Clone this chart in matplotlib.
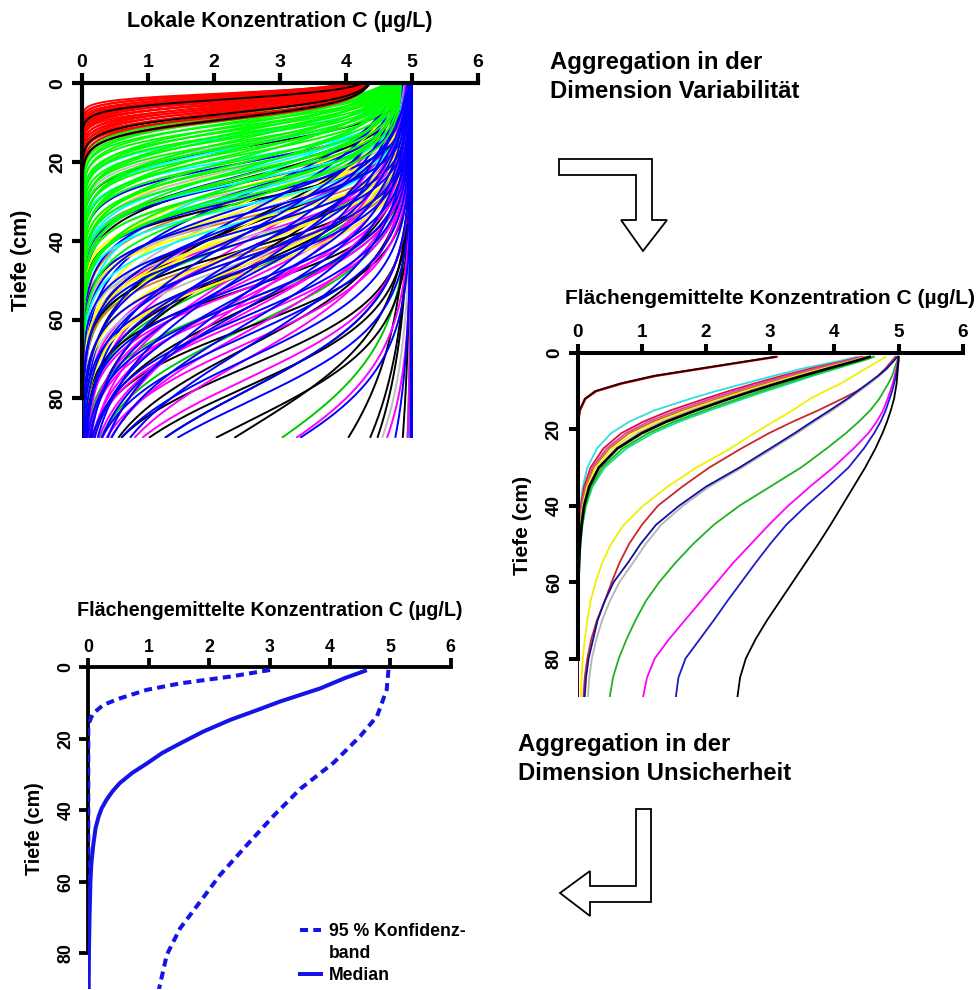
import numpy as np
import matplotlib
matplotlib.use('Agg')
import matplotlib.pyplot as plt
from matplotlib.patches import Polygon
from matplotlib.lines import Line2D

plt.rcParams['font.family'] = ['Liberation Sans', 'DejaVu Sans']
plt.rcParams['font.weight'] = 'bold'

B, H = 980, 990  # Bildgröße in Pixel bei dpi 100

# ---------------------------------------------------------------
# Lokale Profile: je Profil (Frontlage zf in cm, Frontbreite w in cm)
# C(z) = C0 / (1 + exp((z - zf) / w))
# ---------------------------------------------------------------
prof_rot = [(2.5, 0.9), (2.7, 1.1), (2.9, 1.0), (3.1, 1.3), (3.3, 1.1),
            (3.5, 1.4), (3.7, 1.2), (3.9, 1.5), (4.1, 1.3), (4.3, 1.6),
            (4.5, 1.4), (4.7, 1.2), (4.9, 1.7), (5.1, 1.5), (5.3, 1.3),
            (5.6, 1.8), (5.8, 1.5), (6.1, 1.9), (6.3, 1.6), (6.6, 2.0),
            (6.9, 1.7), (7.2, 2.1), (7.5, 1.8), (7.9, 2.3), (8.3, 1.9),
            (8.8, 2.4), (9.3, 2.2)]
prof_schwarz_flach = [(4.0, 1.3), (7.6, 2.0), (9.0, 2.3)]
prof_gruen = [(7.0, 2.2), (7.6, 2.6), (8.1, 2.3), (8.6, 2.9), (9.0, 2.5),
              (9.5, 3.1), (9.9, 2.6), (10.4, 3.6), (10.8, 2.8), (11.3, 3.5),
              (11.7, 3.0), (12.2, 4.1), (12.6, 3.1), (13.1, 3.9), (13.6, 3.3),
              (14.1, 4.6), (14.6, 3.4), (15.2, 4.3), (15.7, 3.6), (16.3, 5.0),
              (16.9, 3.8), (17.5, 4.7), (18.1, 4.0), (18.8, 5.6), (19.5, 4.1),
              (20.2, 5.0), (21.0, 4.3), (21.8, 6.0), (22.6, 4.4), (23.5, 5.4),
              (24.4, 4.6), (25.4, 6.4), (26.5, 4.8), (27.6, 5.7), (28.8, 5.0),
              (30.0, 6.6)]
prof_blau = [(20, 4.0), (23, 5.5), (25, 4.5), (28, 9.0), (27, 6.5), (29, 5.0),
             (31, 7.0), (33, 11.0), (33, 5.5), (35, 8.0), (37, 6.0),
             (38, 12.0), (38, 9.0), (40, 6.5), (42, 9.5), (43, 13.0),
             (44, 7.0), (45, 10.0), (47, 7.5), (48, 14.0), (49, 11.0),
             (51, 8.0), (53, 15.0), (53, 11.5), (55, 8.5), (57, 12.0),
             (59, 9.0), (61, 12.5), (64, 9.5), (67, 13.0), (70, 10.0),
             (78, 11.0), (81, 10.0), (98, 12.0), (150, 20.5), (300, 40),
             (500, 60), (800, 80), (1200, 100)]
prof_magenta = [(33, 6.0), (36, 8.0), (39, 6.5), (40, 12.0), (42, 9.0),
                (44, 7.0), (46, 9.5), (47, 13.0), (48, 7.5), (50, 10.0),
                (52, 8.0), (54, 10.5), (55, 14.0), (56, 8.5), (58, 11.0),
                (60, 9.0), (63, 11.5), (66, 9.5), (70, 12.0), (75, 10.0),
                (98, 13.0), (130, 16.0), (220, 30)]
prof_schwarz = [(16, 3.5), (24, 5.5), (30, 4.5), (35, 10.0), (36, 7.5),
                (42, 6.0), (45, 12.0), (47, 9.0), (52, 7.0), (57, 10.0),
                (62, 8.0), (67, 11.0), (72, 9.0), (77, 9.5), (78, 11.0),
                (86, 10.5), (88, 13.0), (120, 21.0), (132, 21.8),
                (140, 23.3), (200, 31.0)]
prof_gelb = [(22, 4.0), (26, 6.0), (29, 4.5), (30, 9.0), (32, 6.5), (35, 5.0),
             (36, 10.0), (38, 7.0), (40, 6.0), (42, 8.0), (44, 7.0),
             (46, 8.5), (48, 7.5)]
prof_cyan = [(13, 3.0), (16, 4.0), (19, 3.5), (22, 5.0), (25, 8.0), (25, 4.2),
             (28, 5.5), (31, 4.8), (35, 6.0)]
prof_grau = [(15, 3.5), (21, 5.0), (27, 4.5), (32, 9.0), (33, 6.0),
             (39, 5.5), (45, 7.5), (135, 19.5)]
prof_orange = [(24, 4.5), (29, 6.0), (34, 5.0), (38, 7.0), (43, 6.0)]
prof_dunkelgruen = [(40, 7.0), (48, 9.0), (55, 8.0), (62, 10.0), (96, 14.0),
                    (240, 35.0)]

# Gruppe: (Profile, Oberflächenkonzentration C0, Farbe), Zeichenreihenfolge
gruppen_lokal = [
    (prof_magenta, 5.0, '#ff00ff'),
    (prof_schwarz, 5.0, '#000000'),
    (prof_gelb, 5.0, '#ffff00'),
    (prof_cyan, 4.9, '#00ffff'),
    (prof_grau, 5.0, '#bebebe'),
    (prof_orange, 5.0, '#e0801a'),
    (prof_dunkelgruen, 5.0, '#00c800'),
    (prof_blau, 5.0, '#0000ff'),
    (prof_gruen, 4.85, '#00ff00'),
    (prof_rot, 4.4, '#ff0000'),
]
gruppe_oben_drauf = (prof_schwarz_flach, 4.45, '#000000')

tiefe_lokal = np.linspace(0, 90, 451)


def lokales_profil(c0, zf, w):
    return c0 / (1.0 + np.exp((tiefe_lokal - zf) / w))


# ---------------------------------------------------------------
# Flächengemittelte Profile (rechts), Werte in µg/L je Tiefe
# ---------------------------------------------------------------
tiefe_fl = [1, 2, 4, 6, 8, 10, 12, 15, 18, 21, 25, 30, 35, 40, 45, 50, 55, 60,
            65, 70, 75, 80, 85, 90]
fl_a_schwarz = [3.07, 2.69, 1.93, 1.18, 0.66, 0.27, 0.11, 0.03, 0.01, 0, 0, 0,
                0, 0, 0, 0, 0, 0, 0, 0, 0, 0, 0, 0]
fl_a_rot = [3.10, 2.72, 1.97, 1.22, 0.69, 0.29, 0.12, 0.035, 0.01, 0, 0, 0, 0,
            0, 0, 0, 0, 0, 0, 0, 0, 0, 0, 0]
fl_cyan = [4.35, 4.10, 3.52, 3.05, 2.60, 2.15, 1.75, 1.20, 0.80, 0.52, 0.30,
           0.15, 0.08, 0.04, 0.02, 0.01, 0.01, 0, 0, 0, 0, 0, 0, 0]
fl_rot = [4.42, 4.18, 3.65, 3.18, 2.75, 2.35, 1.98, 1.45, 1.02, 0.68, 0.40,
          0.20, 0.10, 0.05, 0.03, 0.015, 0.01, 0.005, 0, 0, 0, 0, 0, 0]
fl_magenta = [4.45, 4.22, 3.72, 3.26, 2.84, 2.44, 2.07, 1.55, 1.10, 0.75, 0.45,
              0.23, 0.12, 0.06, 0.035, 0.02, 0.01, 0.005, 0, 0, 0, 0, 0, 0]
fl_orange = [4.48, 4.26, 3.78, 3.33, 2.92, 2.53, 2.16, 1.63, 1.17, 0.80, 0.49,
             0.25, 0.13, 0.07, 0.04, 0.02, 0.01, 0.005, 0, 0, 0, 0, 0, 0]
fl_gelb = [4.50, 4.30, 3.84, 3.40, 3.00, 2.61, 2.24, 1.72, 1.25, 0.88, 0.54,
           0.28, 0.15, 0.08, 0.045, 0.025, 0.015, 0.008, 0, 0, 0, 0, 0, 0]
fl_grau = [4.52, 4.32, 3.88, 3.45, 3.05, 2.67, 2.30, 1.78, 1.32, 0.95, 0.60,
           0.32, 0.17, 0.09, 0.05, 0.03, 0.015, 0.008, 0, 0, 0, 0, 0, 0]
fl_schwarz = [4.55, 4.35, 3.92, 3.50, 3.10, 2.72, 2.36, 1.85, 1.38, 1.00, 0.62,
              0.33, 0.18, 0.10, 0.06, 0.035, 0.02, 0.012, 0.006, 0.003, 0, 0,
              0, 0]
fl_gruen = [4.60, 4.42, 4.00, 3.60, 3.22, 2.85, 2.50, 1.98, 1.50, 1.10, 0.70,
            0.38, 0.21, 0.12, 0.07, 0.04, 0.025, 0.015, 0.008, 0.004, 0, 0, 0,
            0]
fl_fruehlingsgruen = [4.62, 4.45, 4.05, 3.66, 3.30, 2.93, 2.58, 2.06, 1.58,
                      1.17, 0.76, 0.42, 0.23, 0.13, 0.075, 0.045, 0.028, 0.017,
                      0.01, 0.005, 0, 0, 0, 0]
fl_gelb_tief = [4.80, 4.70, 4.50, 4.30, 4.10, 3.85, 3.62, 3.35, 3.05, 2.75,
                2.38, 1.85, 1.40, 1.02, 0.72, 0.52, 0.38, 0.28, 0.20, 0.15,
                0.11, 0.08, 0.06, 0.05]
fl_rot_tief = [4.95, 4.90, 4.80, 4.68, 4.54, 4.35, 4.12, 3.75, 3.35, 2.98,
               2.55, 2.05, 1.63, 1.25, 1.00, 0.80, 0.65, 0.53, 0.42, 0.30,
               0.21, 0.15, 0.11, 0.09]
fl_grau_tief = [4.98, 4.93, 4.83, 4.70, 4.55, 4.39, 4.23, 3.97, 3.69, 3.42,
                3.04, 2.56, 2.05, 1.64, 1.30, 1.06, 0.86, 0.65, 0.50, 0.38,
                0.29, 0.22, 0.18, 0.16]
fl_navy = [4.98, 4.93, 4.82, 4.68, 4.52, 4.36, 4.20, 3.93, 3.65, 3.38, 3.00,
           2.52, 2.00, 1.58, 1.22, 0.98, 0.78, 0.56, 0.42, 0.31, 0.24, 0.17,
           0.13, 0.11]
fl_gruen_tief = [5.00, 4.98, 4.94, 4.90, 4.84, 4.77, 4.70, 4.56, 4.38, 4.18,
                 3.88, 3.48, 3.00, 2.52, 2.12, 1.80, 1.52, 1.27, 1.06, 0.90,
                 0.76, 0.64, 0.55, 0.50]
fl_magenta_tief = [5.00, 4.99, 4.97, 4.94, 4.91, 4.87, 4.83, 4.76, 4.66, 4.53,
                   4.30, 3.98, 3.62, 3.28, 2.98, 2.70, 2.42, 2.17, 1.92, 1.67,
                   1.42, 1.20, 1.08, 1.02]
fl_blau_tief = [5.00, 5.00, 4.98, 4.96, 4.93, 4.90, 4.86, 4.80, 4.72, 4.62,
                4.46, 4.22, 3.90, 3.56, 3.25, 3.00, 2.77, 2.55, 2.33, 2.12,
                1.90, 1.68, 1.57, 1.53]
fl_schwarz_tief = [5.00, 5.00, 4.99, 4.98, 4.97, 4.95, 4.93, 4.88, 4.82, 4.75,
                   4.64, 4.48, 4.30, 4.12, 3.94, 3.75, 3.55, 3.35, 3.15, 2.95,
                   2.77, 2.62, 2.53, 2.49]

kurven_fl = [
    (fl_gelb_tief, '#f0f000', 1.3),
    (fl_rot_tief, '#c8282a', 1.3),
    (fl_grau_tief, '#b4b4b4', 1.3),
    (fl_navy, '#1010a0', 1.3),
    (fl_gruen_tief, '#22b022', 1.3),
    (fl_magenta_tief, '#ff00ff', 1.3),
    (fl_blau_tief, '#1c1cc8', 1.3),
    (fl_schwarz_tief, '#000000', 1.3),
    (fl_fruehlingsgruen, '#10e090', 1.3),
    (fl_gruen, '#20c020', 1.5),
    (fl_cyan, '#30e0e0', 1.3),
    (fl_rot, '#e0103c', 1.3),
    (fl_magenta, '#e040d0', 1.3),
    (fl_orange, '#d07010', 1.3),
    (fl_gelb, '#f0f020', 1.3),
    (fl_grau, '#a0a0a0', 1.3),
    (fl_schwarz, '#000000', 1.9),
    (fl_a_rot, '#c00000', 1.6),
    (fl_a_schwarz, '#300000', 1.3),
]

# ---------------------------------------------------------------
# Median und 95 %-Konfidenzband (unten links)
# ---------------------------------------------------------------
tiefe_median = [1, 3, 5.9, 9.6, 12, 14.7, 18, 21.3, 24, 26.9, 29.5, 32.4,
                34.7, 37.1, 39.5, 41.8, 45, 50, 55, 60, 70, 80, 90]
c_median = [4.58, 4.25, 3.84, 3.17, 2.79, 2.35, 1.90, 1.52, 1.22, 0.97, 0.73,
            0.52, 0.40, 0.30, 0.22, 0.17, 0.12, 0.08, 0.05, 0.035, 0.02, 0.01,
            0.005]
tiefe_band_unten = [0.75, 2.6, 4.5, 6.3, 8.7, 10.5, 12.9, 14, 16, 90]
c_band_unten = [3.01, 2.35, 1.52, 0.97, 0.52, 0.25, 0.08, 0.05, 0.0, 0.0]
tiefe_band_oben = [0.7, 6.3, 13.7, 19.3, 26.7, 34, 41.5, 49.8, 58.1, 65.6, 73,
                   80.4, 90]
c_band_oben = [4.97, 4.94, 4.78, 4.50, 4.06, 3.51, 3.07, 2.62, 2.18, 1.85,
               1.52, 1.30, 1.17]

blau = '#1414e6'


def achse(links, rechts, oben, unten):
    return fig.add_axes([links / B, 1 - unten / H, (rechts - links) / B,
                         (unten - oben) / H])


def achsen_stil(ax, s):
    ax.set_xlim(0, 6)
    ax.set_ylim(90, 0)
    ax.patch.set_visible(False)
    for seite in ['bottom', 'right']:
        ax.spines[seite].set_visible(False)
    for seite in ['top', 'left']:
        ax.spines[seite].set_linewidth(3 * s)
        ax.spines[seite].set_capstyle('projecting')
    ax.spines['top'].set_bounds(0, 6)
    ax.spines['left'].set_bounds(0, 80)
    ax.set_xticks(range(7))
    ax.set_yticks([0, 20, 40, 60, 80])
    ax.xaxis.tick_top()
    ax.tick_params(axis='both', direction='out', length=7 * s, width=3 * s,
                   labelsize=14 * s)
    ax.tick_params(axis='x', pad=2 * s)
    ax.tick_params(axis='y', pad=4 * s, labelrotation=90)
    for lab in ax.get_yticklabels():
        lab.set_va('center')


fig = plt.figure(figsize=(B / 100, H / 100), dpi=100)

# --- oben links: lokale Konzentration
ax1 = achse(82, 478, 83.3, 437.8)
achsen_stil(ax1, 1.0)
n_max = max(len(g[0]) for g in gruppen_lokal)
for i in range(n_max):
    for profile, c0, farbe in gruppen_lokal:
        if i < len(profile):
            zf, w = profile[i]
            ax1.plot(lokales_profil(c0, zf, w), tiefe_lokal, color=farbe,
                     lw=1.4, solid_capstyle='butt')
profile, c0, farbe = gruppe_oben_drauf
for zf, w in profile:
    ax1.plot(lokales_profil(c0, zf, w), tiefe_lokal, color=farbe, lw=1.4,
             solid_capstyle='butt')

# --- rechts: flächengemittelte Konzentration
ax2 = achse(577.7, 962.7, 353, 696.7)
achsen_stil(ax2, 0.972)
for werte, farbe, lw in kurven_fl:
    ax2.plot(werte, tiefe_fl, color=farbe, lw=lw)

# --- unten links: Median und Konfidenzband (über der Achsenlinie)
ax3 = achse(88.3, 450.7, 667.3, 989.1)
achsen_stil(ax3, 0.915)
strich = (0, (2.0, 1.3))
ax3.plot(c_band_unten, tiefe_band_unten, color=blau, lw=2.9, linestyle=strich,
         dash_capstyle='butt', zorder=3)
ax3.plot(c_band_oben, tiefe_band_oben, color=blau, lw=2.9, linestyle=strich,
         dash_capstyle='butt', zorder=3)
ax3.plot(c_median, tiefe_median, color=blau, lw=2.9, zorder=3)

h_band = Line2D([], [], color=blau, lw=2.9, linestyle=strich,
                dash_capstyle='butt')
h_leer = Line2D([], [], linestyle='none')
h_med = Line2D([], [], color=blau, lw=2.9)
ax3.legend([h_band, h_leer, h_med], ['95 % Konfidenz-', 'band', 'Median'],
           loc='upper left', bbox_to_anchor=(300 / B, 1 - 923 / H),
           bbox_transform=fig.transFigure, frameon=False, fontsize=12.7,
           handlelength=1.2, handletextpad=0.45, labelspacing=0.29,
           borderpad=0, borderaxespad=0)

# --- Achsentitel
titel = [
    ('Lokale Konzentration C (µg/L)', 280, 21.7, 15.5, 22, 260),
    ('Flächengemittelte Konzentration C (µg/L)', 770, 298.3, 15.1, 522, 525),
    ('Flächengemittelte Konzentration C (µg/L)', 269.5, 610.7, 14.2, 35, 829),
]
for text, tx, ty, fs, yx, yy in titel:
    fig.text(tx / B, 1 - ty / H, text, ha='center', va='center', fontsize=fs,
             fontweight='bold')
    fig.text(yx / B, 1 - yy / H, 'Tiefe (cm)', ha='center', va='center',
             rotation=90, fontsize=fs, fontweight='bold')

# --- Beschriftung und Pfeile zwischen den Diagrammen
fig.text(550 / B, 1 - 63 / H, 'Aggregation in der', ha='left', va='center',
         fontsize=17.2, fontweight='bold')
fig.text(550 / B, 1 - 92 / H, 'Dimension Variabilität', ha='left',
         va='center', fontsize=17.2, fontweight='bold')
fig.text(518 / B, 1 - 745 / H, 'Aggregation in der', ha='left', va='center',
         fontsize=17.2, fontweight='bold')
fig.text(518 / B, 1 - 773 / H, 'Dimension Unsicherheit', ha='left',
         va='center', fontsize=17.2, fontweight='bold')

ov = fig.add_axes([0, 0, 1, 1])
ov.set_xlim(0, B)
ov.set_ylim(H, 0)
ov.axis('off')
pfeil_runter = [(559, 159), (652, 159), (652, 220), (667, 220), (643, 251),
                (621, 220), (636, 220), (636, 175), (559, 175)]
pfeil_links = [(636, 809), (651, 809), (651, 902), (590, 902), (590, 916),
               (560, 893), (590, 871), (590, 886), (636, 886)]
for form in (pfeil_runter, pfeil_links):
    ov.add_patch(Polygon(form, closed=True, facecolor='white',
                         edgecolor='black', lw=1.3, joinstyle='miter'))

fig.savefig('out.png', dpi=100)
